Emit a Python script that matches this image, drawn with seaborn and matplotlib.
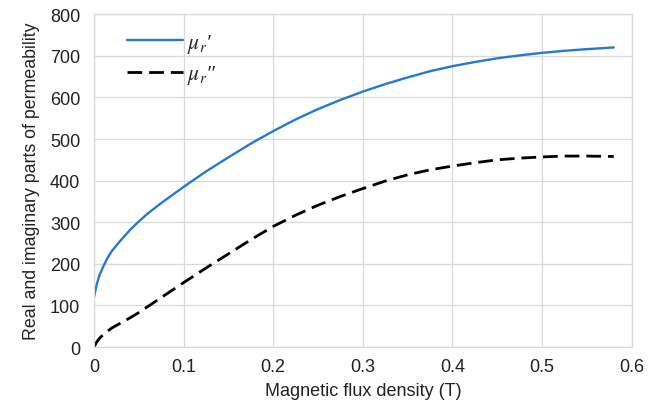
import matplotlib
matplotlib.use("Agg")
import matplotlib.pyplot as plt
import seaborn as sns
import pandas as pd

b_real = [0.0, 0.003, 0.006, 0.01, 0.015, 0.02, 0.03, 0.04, 0.05, 0.06, 0.075, 0.1, 0.125, 0.15,
          0.175, 0.2, 0.225, 0.25, 0.275, 0.3, 0.325, 0.35, 0.375, 0.4, 0.425, 0.45, 0.475, 0.5,
          0.525, 0.55, 0.58]
mu_real = [120, 150, 172, 192, 214, 231, 257, 281, 302, 321, 346, 385, 422, 456,
           489, 519, 547, 572, 594, 614, 632, 648, 663, 675, 685, 694, 701, 707,
           712, 716, 720]
b_imag = [0.0, 0.003, 0.006, 0.01, 0.015, 0.02, 0.03, 0.04, 0.05, 0.075, 0.1, 0.125, 0.15,
          0.175, 0.2, 0.225, 0.25, 0.275, 0.3, 0.325, 0.35, 0.375, 0.4, 0.425, 0.45, 0.475,
          0.5, 0.525, 0.55, 0.58]
mu_imag = [0, 12, 21, 29, 38, 46, 58, 70, 83, 119, 155, 190, 224,
           258, 290, 317, 341, 362, 381, 399, 414, 426, 435, 443, 450, 454,
           457, 459, 459, 458]

sns.set_theme(style="white")
plt.rcParams['font.family'] = ['Liberation Sans', 'DejaVu Sans']
plt.rcParams['mathtext.fontset'] = 'stix'

fig = plt.figure(figsize=(6.68, 4.10), dpi=100)
ax = fig.add_axes([0.1407, 0.151, 0.805, 0.812])

df1 = pd.DataFrame({"B": b_real, "mu": mu_real})
df2 = pd.DataFrame({"B": b_imag, "mu": mu_imag})
sns.lineplot(data=df1, x="B", y="mu", ax=ax, color="#2878d0", lw=1.7, label=r"$\mu_r$" + "\u2032")
sns.lineplot(data=df2, x="B", y="mu", ax=ax, color="black", lw=2.0, dashes=False, label=r"$\mu_r$" + "\u2033")
ax.lines[1].set_dashes([5.3, 2.5])

ax.set_xlim(0, 0.6)
ax.set_ylim(0, 800)
ax.set_xticks([0, 0.1, 0.2, 0.3, 0.4, 0.5, 0.6])
ax.set_xticklabels(["0", "0.1", "0.2", "0.3", "0.4", "0.5", "0.6"])
ax.set_yticks(range(0, 801, 100))
ax.grid(True, color="#d9d9d9", lw=0.9)
for s in ax.spines.values():
    s.set_color("#d9d9d9")
    s.set_linewidth(0.9)
ax.tick_params(labelsize=13, length=0, colors="#222222")
ax.tick_params(axis="y", pad=10)
ax.tick_params(axis="x", pad=8)
ax.set_xlabel("Magnetic flux density (T)", fontsize=13, color="#222222", labelpad=5)
ax.set_ylabel("Real and imaginary parts of permeability", fontsize=12.8, color="#222222", labelpad=7)

leg = ax.legend(loc="upper left", frameon=False, fontsize=15.5, handlelength=2.6,
                bbox_to_anchor=(0.025, 1.005), labelspacing=0.4, handletextpad=0.2)
for t in leg.get_texts():
    t.set_fontfamily(['Liberation Serif', 'DejaVu Serif'])
    t.set_fontstyle('italic')

fig.savefig("out.png", dpi=100)
